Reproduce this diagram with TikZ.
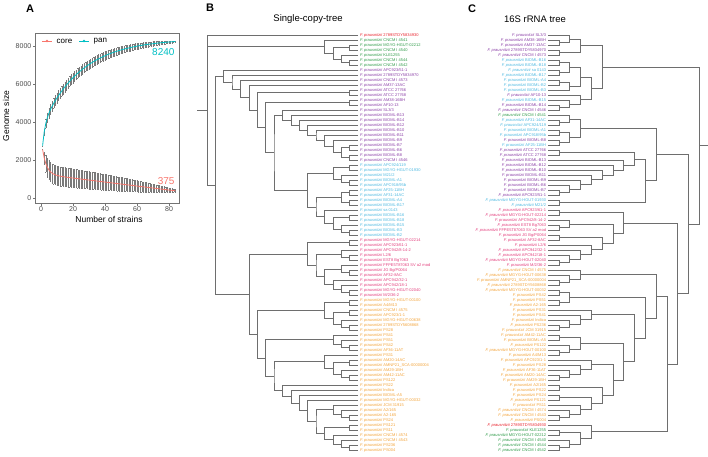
\documentclass[tikz,border=0pt]{standalone}
\usepackage{fontspec}
\setmainfont{Liberation Sans}
\usetikzlibrary{calc}

\definecolor{corecol}{HTML}{F8766D}
\definecolor{pancol}{HTML}{00BFC4}
\definecolor{tred}{HTML}{E8202A}
\definecolor{tgreen}{HTML}{2E9A48}
\definecolor{tpurple}{HTML}{8A3FA6}
\definecolor{tcyan}{HTML}{4DB8E0}
\definecolor{tpink}{HTML}{E23E7C}
\definecolor{torange}{HTML}{F2A33A}
\definecolor{branchcol}{HTML}{6E6E6E}
\definecolor{errcol}{HTML}{7A7A7A}

\tikzset{
    branch/.style={draw=branchcol, line width=0.45pt},
    leafB/.style={anchor=west, inner sep=1.8pt, font=\fontsize{4}{4.5}\selectfont},
    leafC/.style={anchor=east, inner sep=1.8pt, font=\fontsize{4}{4.5}\selectfont},
    panel/.style={font=\fontsize{11}{12}\selectfont\bfseries},
    treetitle/.style={font=\fontsize{9.5}{11}\selectfont},
    ticklab/.style={font=\fontsize{7}{8}\selectfont, text=black!70, inner sep=1pt},
    axtitle/.style={font=\fontsize{8.5}{10}\selectfont},
    legtext/.style={font=\fontsize{8}{9}\selectfont, anchor=west, inner sep=0.5pt},
    errbar/.style={draw=errcol, line width=0.22pt},
    curve/.style={line width=0.8pt},
    frame/.style={draw=black!55, line width=0.5pt},
    dot/.style={circle, inner sep=0pt, minimum size=2.6pt},
}

% one bracket of a tree: name, height, first child, last child
\newcommand\clade[4]{%
  \path ($(#3)!0.5!(#4)$) coordinate (#1mid);
  \pgfmathsetmacro\cladex{\tipx+\stepx*#2}
  \coordinate (#1) at (\cladex,0 |- #1mid);
  \draw[branch] (#3) -| (#1) |- (#4);
}

\begin{document}
\begin{tikzpicture}[x=1pt, y=-1pt]
    \useasboundingbox (0,0) rectangle (708,456);

    % === PANEL A ===
    \node[panel] (pA) at (30,9) {A};
    \begin{scope}[shift={(41,198)}, x=1.6pt, y=0.019pt]
        \foreach \n in {1,...,84} {
            \pgfmathsetmacro\panm{8380-4715*exp(-\n/24)-1100*exp(-(\n-1)/1.5)}
            \pgfmathsetmacro\pane{(40+230*(1-(\n/84)^2))*(1-exp(-(\n-1)))}
            \pgfmathsetmacro\corem{1260-10.5*\n+1300*exp(-(\n-1)/2.5)}
            \pgfmathsetmacro\coree{(60+450*(1-(\n/86)^2))*(1-exp(-(\n-1)))}
            \draw[errbar] (\n,\panm-\pane) -- (\n,\panm+\pane);
            \draw[errbar] (\n-0.25,\panm-\pane) -- (\n+0.25,\panm-\pane);
            \draw[errbar] (\n-0.25,\panm+\pane) -- (\n+0.25,\panm+\pane);
            \draw[errbar] (\n,\corem-\coree) -- (\n,\corem+\coree);
            \draw[errbar] (\n-0.25,\corem-\coree) -- (\n+0.25,\corem-\coree);
            \draw[errbar] (\n-0.25,\corem+\coree) -- (\n+0.25,\corem+\coree);
        }
        \draw[curve, corecol] plot[domain=1:84, samples=84] (\x, {1260-10.5*\x+1300*exp(-(\x-1)/2.5)});
        \draw[curve, pancol] plot[domain=1:84, samples=84] (\x, {8380-4715*exp(-\x/24)-1100*exp(-(\x-1)/1.5)});
    \end{scope}
    \draw[frame] (35,33) rectangle (179,203);
    \foreach \v in {0,2000,4000,6000,8000} {
        \draw[frame] (35,{198-0.019*\v}) -- (32.5,{198-0.019*\v});
        \node[ticklab, anchor=east] (yt\v) at (32.5,{198-0.019*\v}) {\v};
    }
    \foreach \n in {0,20,40,60,80} {
        \draw[frame] ({41+1.6*\n},203) -- ({41+1.6*\n},205.5);
        \node[ticklab, anchor=north] (xt\n) at ({41+1.6*\n},205.5) {\n};
    }
    \node[axtitle] (xlab) at (109,219) {Number of strains};
    \node[axtitle, rotate=90] (ylab) at (6,116) {Genome size};

    % legend
    \coordinate (lc1) at (42,41);
    \coordinate (lc2) at (52,41);
    \draw[curve, corecol] (lc1) -- (lc2);
    \node[dot, fill=corecol] (lcdot) at (47,41) {};
    \node[legtext] (lctext) at (56,41) {core};
    \coordinate (lp1) at (79,41);
    \coordinate (lp2) at (89,41);
    \draw[curve, pancol] (lp1) -- (lp2);
    \node[dot, fill=pancol] (lpdot) at (84,41) {};
    \node[legtext] (lptext) at (93,41) {pan};

    \node[anchor=east, text=pancol, font=\fontsize{10}{12}\selectfont] (panend) at (178,52) {8240};
    \node[anchor=east, text=corecol, font=\fontsize{10}{12}\selectfont] (coreend) at (178,181) {375};

    % === PANEL B ===
    \node[panel] (pB) at (210,8) {B};
    \node[treetitle] (tB) at (308,19) {Single-copy-tree};
    \foreach \col/\txt [count=\i] in {red/2789STDY5834930,
        green/CNCM I 4541, green/MGYG-HGUT-02212, green/CNCM I 4540, green/KLE1255, green/CNCM I 4544, green/CNCM I 4542,
        purple/{APC923/51-1}, purple/2789STDY5834970, purple/CNCM I 4573, purple/AM37-13AC, purple/ATCC 27766,
        purple/ATCC 27768, purple/AM38-16BH, purple/AF10-13, purple/{SL3/3}, purple/BIOML-B13, purple/BIOML-B14,
        purple/BIOML-B12, purple/BIOML-B10, purple/BIOML-B11, purple/BIOML-B9, purple/BIOML-B7, purple/BIOML-B6,
        purple/BIOML-B8, purple/CNCM I 4546,
        cyan/{APC924/119}, cyan/MGYG-HGUT-01930, cyan/{M21/2}, cyan/BIOML-A1, cyan/{APC918/95b}, cyan/AF25-11BH,
        cyan/AF31-14AC, cyan/BIOML-A4, cyan/BIOML-B17, cyan/sa 0143, cyan/BIOML-B16, cyan/BIOML-B18, cyan/BIOML-B15,
        cyan/BIOML-B3, cyan/BIOML-B2,
        pink/MGYG-HGUT-02214, pink/{APC923/61-1}, pink/{APC942/8-14-2}, pink/{L2/6}, pink/EST8 Bg7063,
        pink/FFPE5T87063 SV a2 mod, pink/{JG Bg/P0064}, pink/AF32-8AC, pink/{APC942/32-1}, pink/{APC942/18-1},
        pink/MGYG-HGUT-02040, pink/{M/2/36-2},
        orange/MGYG-HGUT-00100, orange/{A4/M13}, orange/CNCM I 4575, orange/{APC923/1-1}, orange/MGYG-HGUT-00638,
        orange/2789STDY5608868, orange/PS28, orange/PS41, orange/PS51, orange/PS42, orange/AF36-11AT, orange/PS31,
        orange/AM20-14AC, orange/AMNP21\_SCA-00000004, orange/AM29-1BH, orange/AM42-11AC, orange/PS122, orange/PS22,
        orange/Indica, orange/BIOML-A5, orange/MGYG-HGUT-00032, orange/JCM 31915, orange/{A2/165}, orange/A2-165,
        orange/PS24, orange/PS121, orange/PS11, orange/CNCM I 4574, orange/CNCM I 4543, orange/PS236, orange/PS004}
        \node[leafB, text=t\col] (b\i) at (358,{35+5*(\i-1)}) {\textit{F. prausnitzii} \txt};

    \def\tipx{358}\def\stepx{(-8.4)}
    % green group
    \clade{Gd}{1}{b6.west}{b7.west}
    \clade{Gb}{1}{b3.west}{b4.west}
    \clade{Gc}{2}{b5.west}{Gd}
    \clade{Ga}{3}{Gb}{Gc}
    \clade{G}{4}{b2.west}{Ga}
    % purple ladder
    \clade{Pz}{1}{b25.west}{b26.west}
    \clade{Pyy}{1}{b23.west}{b24.west}
    \clade{Py}{2}{Pyy}{Pz}
    \clade{Pw}{3}{b22.west}{Py}
    \clade{Pv}{4}{b21.west}{Pw}
    \clade{Pu}{5}{b20.west}{Pv}
    \clade{Pt}{6}{b19.west}{Pu}
    \clade{Ps}{7}{b18.west}{Pt}
    \clade{Pr}{8}{b17.west}{Ps}
    \clade{Pq}{9}{b16.west}{Pr}
    % cyan group
    \clade{Ka}{1}{b27.west}{b28.west}
    \clade{Kb}{1}{b30.west}{b31.west}
    \clade{Kc}{2}{b29.west}{Kb}
    \clade{Kd}{3}{Ka}{Kc}
    \clade{Ke}{1}{b32.west}{b33.west}
    \clade{Kf}{1}{b34.west}{b35.west}
    \clade{Kg}{2}{Ke}{Kf}
    \clade{Kh}{1}{b37.west}{b38.west}
    \clade{Ki}{1}{b40.west}{b41.west}
    \clade{Kj}{2}{b39.west}{Ki}
    \clade{Kk}{3}{Kh}{Kj}
    \clade{Kl}{4}{b36.west}{Kk}
    \clade{Km}{5}{Kg}{Kl}
    \clade{K}{6}{Kd}{Km}
    \clade{X}{10}{Pq}{K}
    \clade{Ua}{1}{b14.west}{b15.west}
    \clade{U6}{11}{Ua}{X}
    \clade{Ub}{1}{b12.west}{b13.west}
    \clade{U5}{12}{Ub}{U6}
    \clade{U4}{13}{b11.west}{U5}
    \clade{U3}{14}{b10.west}{U4}
    \clade{U2}{15}{b9.west}{U3}
    \clade{U}{16}{b8.west}{U2}
    % pink group
    \clade{Qa}{1}{b42.west}{b43.west}
    \clade{Qb}{1}{b45.west}{b46.west}
    \clade{Qc}{2}{b44.west}{Qb}
    \clade{Qd}{1}{b48.west}{b49.west}
    \clade{Qe}{2}{b47.west}{Qd}
    \clade{Qf}{1}{b52.west}{b53.west}
    \clade{Qg}{2}{b51.west}{Qf}
    \clade{Qh}{3}{b50.west}{Qg}
    \clade{Qi}{4}{Qe}{Qh}
    \clade{Qj}{5}{Qc}{Qi}
    \clade{Q}{6}{Qa}{Qj}
    % orange group
    \clade{Oa1}{1}{b54.west}{b55.west}
    \clade{Oa2}{1}{b59.west}{b60.west}
    \clade{Oa3}{2}{b58.west}{Oa2}
    \clade{Oa4}{1}{b56.west}{b57.west}
    \clade{Oa5}{3}{Oa4}{Oa3}
    \clade{Oa}{4}{Oa1}{Oa5}
    \clade{Oc1}{1}{b63.west}{b64.west}
    \clade{Oc2}{2}{b62.west}{Oc1}
    \clade{Oc}{3}{b61.west}{Oc2}
    \clade{Oe1}{1}{b69.west}{b70.west}
    \clade{Oe2}{2}{b68.west}{Oe1}
    \clade{Oe3}{1}{b66.west}{b67.west}
    \clade{Oe4}{3}{Oe3}{Oe2}
    \clade{Oe}{4}{b65.west}{Oe4}
    \clade{Ok1}{1}{b77.west}{b78.west}
    \clade{Ok2}{2}{b76.west}{Ok1}
    \clade{Ok}{3}{b75.west}{Ok2}
    \clade{Ol1}{1}{b83.west}{b84.west}
    \clade{Ol2}{2}{b82.west}{Ol1}
    \clade{Ol3}{3}{b81.west}{Ol2}
    \clade{Ol4}{1}{b79.west}{b80.west}
    \clade{Ol}{4}{Ol4}{Ol3}
    \clade{Oj}{5}{Ok}{Ol}
    \clade{Oi}{6}{b74.west}{Oj}
    \clade{Oh}{7}{b73.west}{Oi}
    \clade{Og}{8}{b72.west}{Oh}
    \clade{Of}{9}{b71.west}{Og}
    \clade{Od}{10}{Oe}{Of}
    \clade{Ob}{11}{Oc}{Od}
    \clade{O}{12}{Oa}{Ob}
    \clade{L}{13}{Q}{O}
    \clade{M}{17}{U}{L}
    \clade{RB}{18}{b1.west}{M}
    \draw[branch] (G) -- (G -| RB);
    \coordinate (RBs) at ($(RB)+(-10,0)$);
    \draw[branch] (RB) -- (RBs);

    % === PANEL C ===
    \node[panel] (pC) at (472,9) {C};
    \node[treetitle] (tC) at (535,19) {16S rRNA tree};
    \foreach \col/\txt [count=\i] in {purple/{SL3/3}, purple/AM38-16BH, purple/AM37-13AC, purple/2789STDY5834970,
        purple/CNCM I 4573, cyan/BIOML-B16, cyan/BIOML-B18, cyan/sa 0143, cyan/BIOML-B17, cyan/BIOML-A4,
        cyan/BIOML-B2, cyan/BIOML-B3, purple/AF10-13, cyan/BIOML-B15, purple/BIOML-B14, purple/CNCM I 4546,
        green/CNCM I 4541, cyan/AF31-14AC, cyan/{APC924/119}, cyan/BIOML-A1, cyan/{APC918/95b}, purple/BIOML-B8,
        cyan/AF25-11BH, purple/ATCC 27766, purple/ATCC 27768, purple/BIOML-B13, purple/BIOML-B12, purple/BIOML-B10,
        purple/BIOML-B11, purple/BIOML-B9, purple/BIOML-B6, purple/BIOML-B7, purple/{APC923/51-1},
        cyan/MGYG-HGUT-01930, cyan/{M21/2},
        pink/{APC923/61-1}, pink/MGYG-HGUT-02214, pink/{APC942/8-14-2}, pink/EST8 Bg7063, pink/FFPE5T87063 SV a2 mod,
        pink/{JG Bg/P0064}, pink/AF32-8AC, pink/{L2/6}, pink/{APC942/32-1}, pink/{APC942/18-1}, pink/MGYG-HGUT-02040,
        pink/{M/2/36-2},
        orange/CNCM I 4575, orange/MGYG-HGUT-00638, orange/AMNP21\_SCA-00000004, orange/2789STDY5608868,
        orange/MGYG-HGUT-00032, orange/PS42, orange/PS51, orange/A2-165, orange/PS31, orange/PS41, orange/Indica,
        orange/PS236, orange/JCM 31915, orange/AM42-11AC, orange/BIOML-A5, orange/PS122, orange/MGYG-HGUT-00100,
        orange/{A4/M13}, orange/{APC923/1-1}, orange/PS28, orange/AF36-11AT, orange/AM20-14AC, orange/AM29-1BH,
        orange/{A2/165}, orange/PS22, orange/PS24, orange/PS121, orange/PS11, orange/CNCM I 4574, orange/CNCM I 4543,
        orange/PS004,
        red/2789STDY5834930, green/KLE1255, green/MGYG-HGUT-02212, green/CNCM I 4540, green/CNCM I 4544,
        green/CNCM I 4542}
        \node[leafC, text=t\col] (c\i) at (548,{35+5*(\i-1)}) {\textit{F. prausnitzii} \txt};

    \def\tipx{548}\def\stepx{(10.8)}
    % top groups
    \clade{Ca1}{1}{c2.east}{c3.east}
    \clade{Ca2}{2}{c1.east}{Ca1}
    \clade{Ca3}{1}{c4.east}{c5.east}
    \clade{Ca}{3}{Ca2}{Ca3}
    \clade{Cb1}{1}{c6.east}{c7.east}
    \clade{Cb2}{1}{c8.east}{c9.east}
    \clade{Cb3}{2}{Cb1}{Cb2}
    \clade{Cb4}{1}{c10.east}{c11.east}
    \clade{Cb5}{2}{Cb4}{c12.east}
    \clade{Cb6}{3}{Cb3}{Cb5}
    \clade{Cb7}{1}{c15.east}{c16.east}
    \clade{Cb8}{2}{c14.east}{Cb7}
    \clade{Cb9}{3}{c13.east}{Cb8}
    \clade{Cb}{4}{Cb6}{Cb9}
    \clade{CA}{5}{Ca}{Cb}
    % middle group
    \clade{Cc1}{1}{c18.east}{c19.east}
    \clade{Cc2}{2}{c17.east}{Cc1}
    \clade{Cc3}{1}{c20.east}{c21.east}
    \clade{Cc4}{1}{c22.east}{c23.east}
    \clade{Cc5}{2}{Cc3}{Cc4}
    \clade{Cc6}{3}{Cc2}{Cc5}
    \clade{Cd1}{1}{c32.east}{c33.east}
    \clade{Cd2}{2}{c31.east}{Cd1}
    \clade{Cd3}{3}{c30.east}{Cd2}
    \clade{Cd4}{4}{c29.east}{Cd3}
    \clade{Cd5}{5}{c28.east}{Cd4}
    \clade{Cd6}{6}{c27.east}{Cd5}
    \clade{Cd7}{7}{c26.east}{Cd6}
    \clade{Cd8}{1}{c24.east}{c25.east}
    \clade{Cd9}{8}{Cd8}{Cd7}
    \clade{Cd10}{1}{c34.east}{c35.east}
    \clade{Cd}{9}{Cd9}{Cd10}
    \clade{Cc}{10}{Cc6}{Cd}
    % pink group
    \clade{Ce1}{1}{c46.east}{c47.east}
    \clade{Ce2}{2}{c45.east}{Ce1}
    \clade{Ce3}{3}{c44.east}{Ce2}
    \clade{Ce4}{4}{c43.east}{Ce3}
    \clade{Ce5}{1}{c41.east}{c42.east}
    \clade{Ce6}{5}{Ce5}{Ce4}
    \clade{Ce7}{1}{c39.east}{c40.east}
    \clade{Ce8}{2}{c38.east}{Ce7}
    \clade{Ce9}{6}{Ce8}{Ce6}
    \clade{Ce10}{1}{c36.east}{c37.east}
    \clade{Ce}{7}{Ce10}{Ce9}
    % orange group
    \clade{Cf1}{1}{c50.east}{c51.east}
    \clade{Cf2}{2}{c49.east}{Cf1}
    \clade{Cf3}{3}{c48.east}{Cf2}
    \clade{Cf4}{1}{c52.east}{c53.east}
    \clade{Cf5}{1}{c54.east}{c55.east}
    \clade{Cf6}{2}{Cf4}{Cf5}
    \clade{Cf7}{1}{c59.east}{c60.east}
    \clade{Cf8}{2}{c58.east}{Cf7}
    \clade{Cf9}{3}{c57.east}{Cf8}
    \clade{Cf10}{4}{c56.east}{Cf9}
    \clade{Cf11}{1}{c61.east}{c62.east}
    \clade{Cf12}{1}{c64.east}{c65.east}
    \clade{Cf13}{2}{c63.east}{Cf12}
    \clade{Cf14}{3}{Cf11}{Cf13}
    \clade{Cf15}{1}{c69.east}{c70.east}
    \clade{Cf16}{2}{c68.east}{Cf15}
    \clade{Cf17}{3}{c67.east}{Cf16}
    \clade{Cf18}{4}{c66.east}{Cf17}
    \clade{Cf19}{1}{c77.east}{c78.east}
    \clade{Cf20}{2}{c76.east}{Cf19}
    \clade{Cf21}{3}{c75.east}{Cf20}
    \clade{Cf22}{1}{c73.east}{c74.east}
    \clade{Cf23}{4}{Cf22}{Cf21}
    \clade{Cf24}{1}{c71.east}{c72.east}
    \clade{Cf25}{5}{Cf24}{Cf23}
    \clade{Cf26}{6}{Cf18}{Cf25}
    \clade{Cf27}{7}{Cf14}{Cf26}
    \clade{Cf28}{8}{Cf10}{Cf27}
    \clade{Cf29}{9}{Cf6}{Cf28}
    \clade{Cf}{10}{Cf3}{Cf29}
    % red and green group
    \clade{Cg1}{1}{c83.east}{c84.east}
    \clade{Cg2}{2}{c82.east}{Cg1}
    \clade{Cg3}{1}{c80.east}{c81.east}
    \clade{Cg4}{3}{Cg3}{Cg2}
    \clade{Cg}{4}{c79.east}{Cg4}
    \clade{D1}{11}{Cf}{Cg}
    \clade{D2}{12}{Ce}{D1}
    \clade{D3}{13}{Cc}{D2}
    \clade{RC}{14}{CA}{D3}
    \coordinate (RCs) at ($(RC)+(9,0)$);
    \draw[branch] (RC) -- (RCs);
\end{tikzpicture}
\end{document}
